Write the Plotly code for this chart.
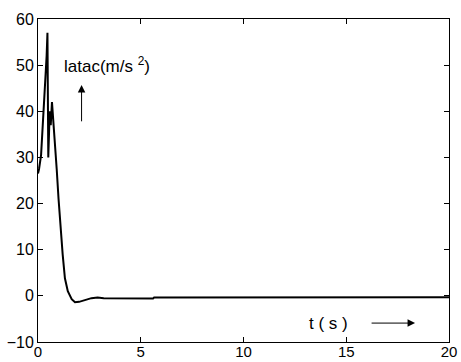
import plotly.graph_objects as go

# Lateral acceleration response over time
time_s = [0, 0.05, 0.15, 0.25, 0.34, 0.42, 0.46, 0.50, 0.57, 0.62, 0.68, 0.8, 0.91,
          1.0, 1.1, 1.2, 1.31, 1.45, 1.64, 1.8, 2.0, 2.3, 2.6, 2.9, 3.2, 5.6, 5.65, 20]
latac = [26.5, 27.5, 30.5, 38, 45, 52, 57, 30, 40, 37, 42, 35, 27.5,
         21, 14.3, 9, 3.8, 1.0, -0.7, -1.4, -1.3, -0.9, -0.5, -0.35, -0.5, -0.55, -0.35, -0.3]

x_ticks = [0, 5, 10, 15, 20]
y_ticks = [-10, 0, 10, 20, 30, 40, 50, 60]

family = "Liberation Sans, Arial, sans-serif"
tick_font = dict(family=family, size=16, color="black")
label_font = dict(family=family, size=17, color="black")

fig = go.Figure()
fig.add_trace(go.Scatter(x=time_s, y=latac, mode="lines",
                         line=dict(color="black", width=2), showlegend=False))

axis_style = dict(showline=True, linecolor="black", linewidth=1, mirror="ticks",
                  ticks="inside", ticklen=5, tickcolor="black", tickwidth=1,
                  showgrid=False, zeroline=False, automargin=False)

fig.update_xaxes(range=[0, 20], tickvals=x_ticks, ticklabelstandoff=-4,
                 tickfont=dict(family=family, size=15, color="black"), **axis_style)
fig.update_yaxes(range=[-10, 60], tickvals=y_ticks, tickfont=tick_font, **axis_style)

fig.add_annotation(x=1.15, y=50, xref="x", yref="y", text="latac(m/s <sup>2</sup>)",
                   showarrow=False, xanchor="left", yanchor="middle", font=label_font)
fig.add_annotation(x=2.12, y=45.7, ax=2.12, ay=37.5, xref="x", yref="y",
                   axref="x", ayref="y", text="", showarrow=True,
                   arrowhead=2, arrowsize=1.5, arrowwidth=1, arrowcolor="black")
fig.add_annotation(x=13.07, y=-5.9, xref="x", yref="y", text="t ( s )",
                   showarrow=False, xanchor="left", yanchor="middle", font=label_font)
fig.add_annotation(x=18.35, y=-5.9, ax=16.16, ay=-5.9, xref="x", yref="y",
                   axref="x", ayref="y", text="", showarrow=True,
                   arrowhead=2, arrowsize=1.5, arrowwidth=1, arrowcolor="black")

fig.update_layout(width=461, height=362,
                  margin=dict(l=38, r=12, t=19, b=20),
                  paper_bgcolor="white", plot_bgcolor="white", font=tick_font)

fig.write_html("out.html")
